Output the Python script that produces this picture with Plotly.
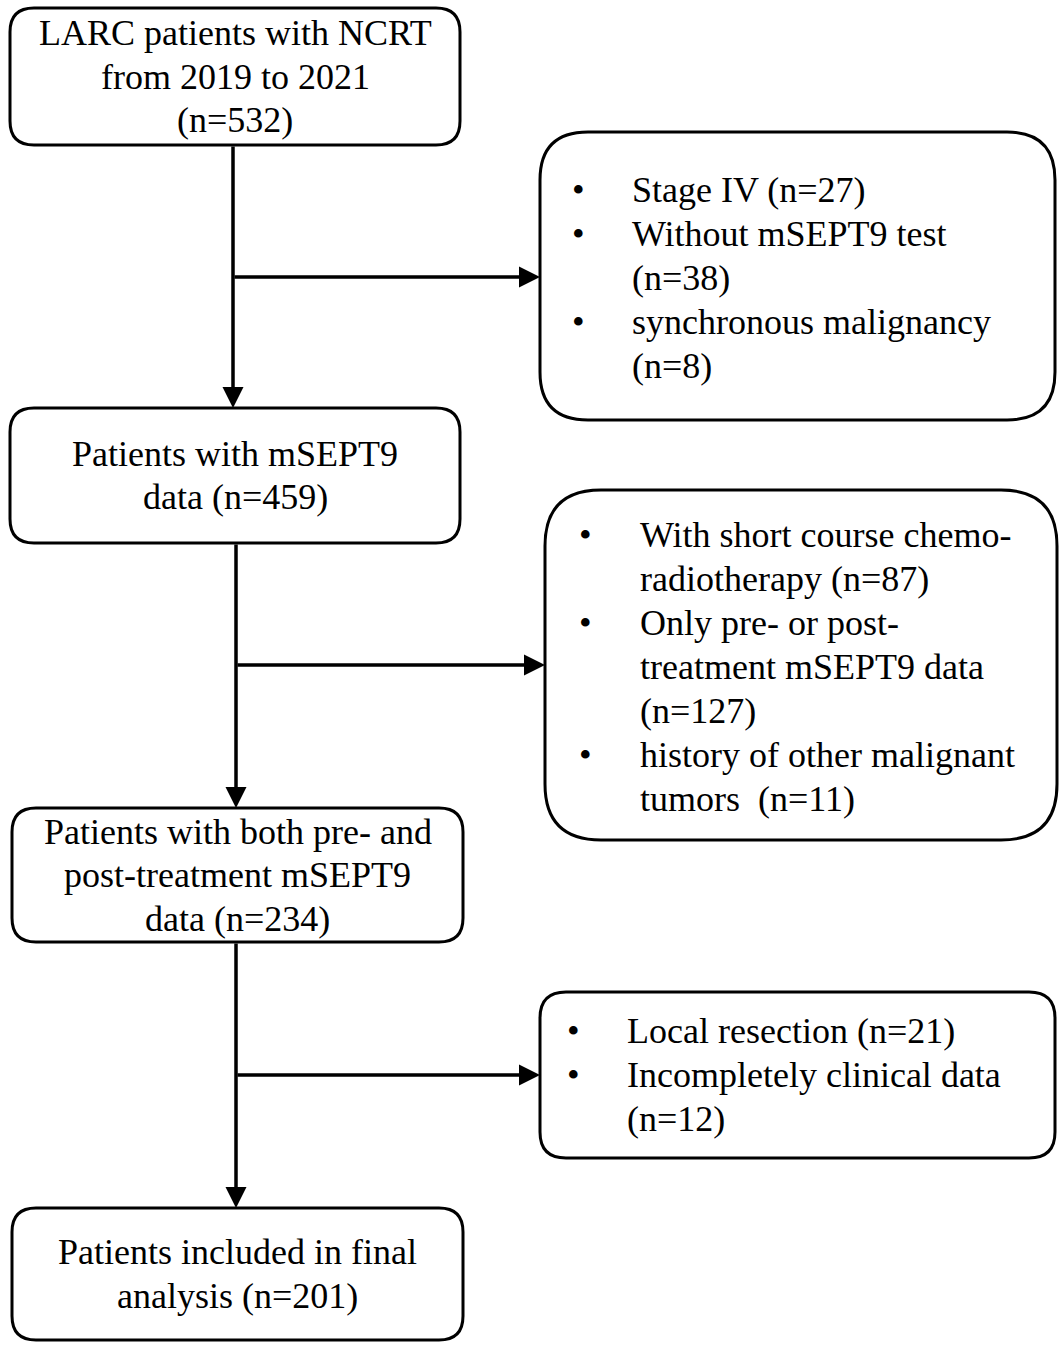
import plotly.graph_objects as go

# main flow: box text lines and patient counts
main_n = [532, 459, 234, 201]
main_lines = [["LARC patients with NCRT", "from 2019 to 2021", f"(n={main_n[0]})"],
              ["Patients with mSEPT9", f"data (n={main_n[1]})"],
              ["Patients with both pre- and", "post-treatment mSEPT9", f"data (n={main_n[2]})"],
              ["Patients included in final", f"analysis (n={main_n[3]})"]]

# excluded patients, per step (lines of each item)
excl_1_items = [["Stage IV (n=27)"], ["Without mSEPT9 test", "(n=38)"], ["synchronous malignancy", "(n=8)"]]
excl_2_items = [["With short course chemo-", "radiotherapy (n=87)"],
                ["Only pre- or post-", "treatment mSEPT9 data", "(n=127)"],
                ["history of other malignant", "tumors  (n=11)"]]
excl_3_items = [["Local resection (n=21)"], ["Incompletely clinical data", "(n=12)"]]

W, H = 1061, 1345
FONT = "Liberation Serif"
FS = 36
LINE = 44

# box geometry (pixels): x0, y0, x1, y1, corner radius
main_boxes = [(10, 8, 460, 145, 24), (10, 408, 460, 543, 24), (12, 808, 463, 942, 24), (12, 1208, 463, 1340, 24)]
excl_boxes = [(540, 132, 1055, 420, 48), (545, 490, 1057, 840, 56), (540, 992, 1055, 1158, 26)]
excl_layout = [(578, 630, 190), (585, 638, 535), (573, 625, 1031)]  # bullet x, text x, first line y
trunk_x = [233, 236, 236]
branch_y = [277, 665, 1075]


def rounded(x0, y0, x1, y1, r):
    return (f"M {x0+r},{y0} L {x1-r},{y0} Q {x1},{y0} {x1},{y0+r} L {x1},{y1-r} Q {x1},{y1} {x1-r},{y1} "
            f"L {x0+r},{y1} Q {x0},{y1} {x0},{y1-r} L {x0},{y0+r} Q {x0},{y0} {x0+r},{y0} Z")


def txt(x, y, s, anchor):
    return dict(x=x, y=y, text=s, showarrow=False, xanchor=anchor, yanchor="middle",
                font=dict(family=FONT, size=FS, color="black"))


fig = go.Figure()
shapes = []
annotations = []

for (x0, y0, x1, y1, r), lines in zip(main_boxes, main_lines):
    shapes.append(dict(type="path", path=rounded(x0, y0, x1, y1, r), line=dict(color="black", width=3)))
    cy = (y0 + y1) / 2 - (len(lines) - 1) * 43.5 / 2
    for i, s in enumerate(lines):
        annotations.append(txt((x0 + x1) / 2, cy + i * 43.5, s, "center"))

for (x0, y0, x1, y1, r), (bx, tx, ly), items in zip(excl_boxes, excl_layout,
                                                    [excl_1_items, excl_2_items, excl_3_items]):
    shapes.append(dict(type="path", path=rounded(x0, y0, x1, y1, r), line=dict(color="black", width=3)))
    i = 0
    for item in items:
        annotations.append(txt(bx, ly + i * LINE, "•", "center"))
        for line in item:
            annotations.append(txt(tx, ly + i * LINE, line, "left"))
            i += 1

# connectors
for k in range(3):
    x = trunk_x[k]
    top = main_boxes[k][3]
    bottom = main_boxes[k + 1][1]
    annotations.append(dict(x=x, y=bottom, ax=x, ay=top, xref="x", yref="y", axref="x", ayref="y",
                            text="", showarrow=True, arrowhead=2, arrowsize=1.2, arrowwidth=3.5,
                            arrowcolor="black", standoff=0, startstandoff=0))
    annotations.append(dict(x=excl_boxes[k][0], y=branch_y[k], ax=x, ay=branch_y[k], xref="x", yref="y",
                            axref="x", ayref="y", text="", showarrow=True, arrowhead=2, arrowsize=1.2,
                            arrowwidth=3.5, arrowcolor="black", standoff=0, startstandoff=0))

fig.update_layout(
    width=W, height=H,
    margin=dict(l=0, r=0, t=0, b=0),
    paper_bgcolor="white", plot_bgcolor="white",
    xaxis=dict(range=[0, W], visible=False, fixedrange=True),
    yaxis=dict(range=[H, 0], visible=False, fixedrange=True),
    shapes=shapes,
    annotations=annotations,
    showlegend=False,
)

# drop the default page margin so the chart fills the window exactly
fig.write_html("out.html", config={"displayModeBar": False},
               post_script="document.body.style.margin='0';document.body.style.overflow='hidden';")
